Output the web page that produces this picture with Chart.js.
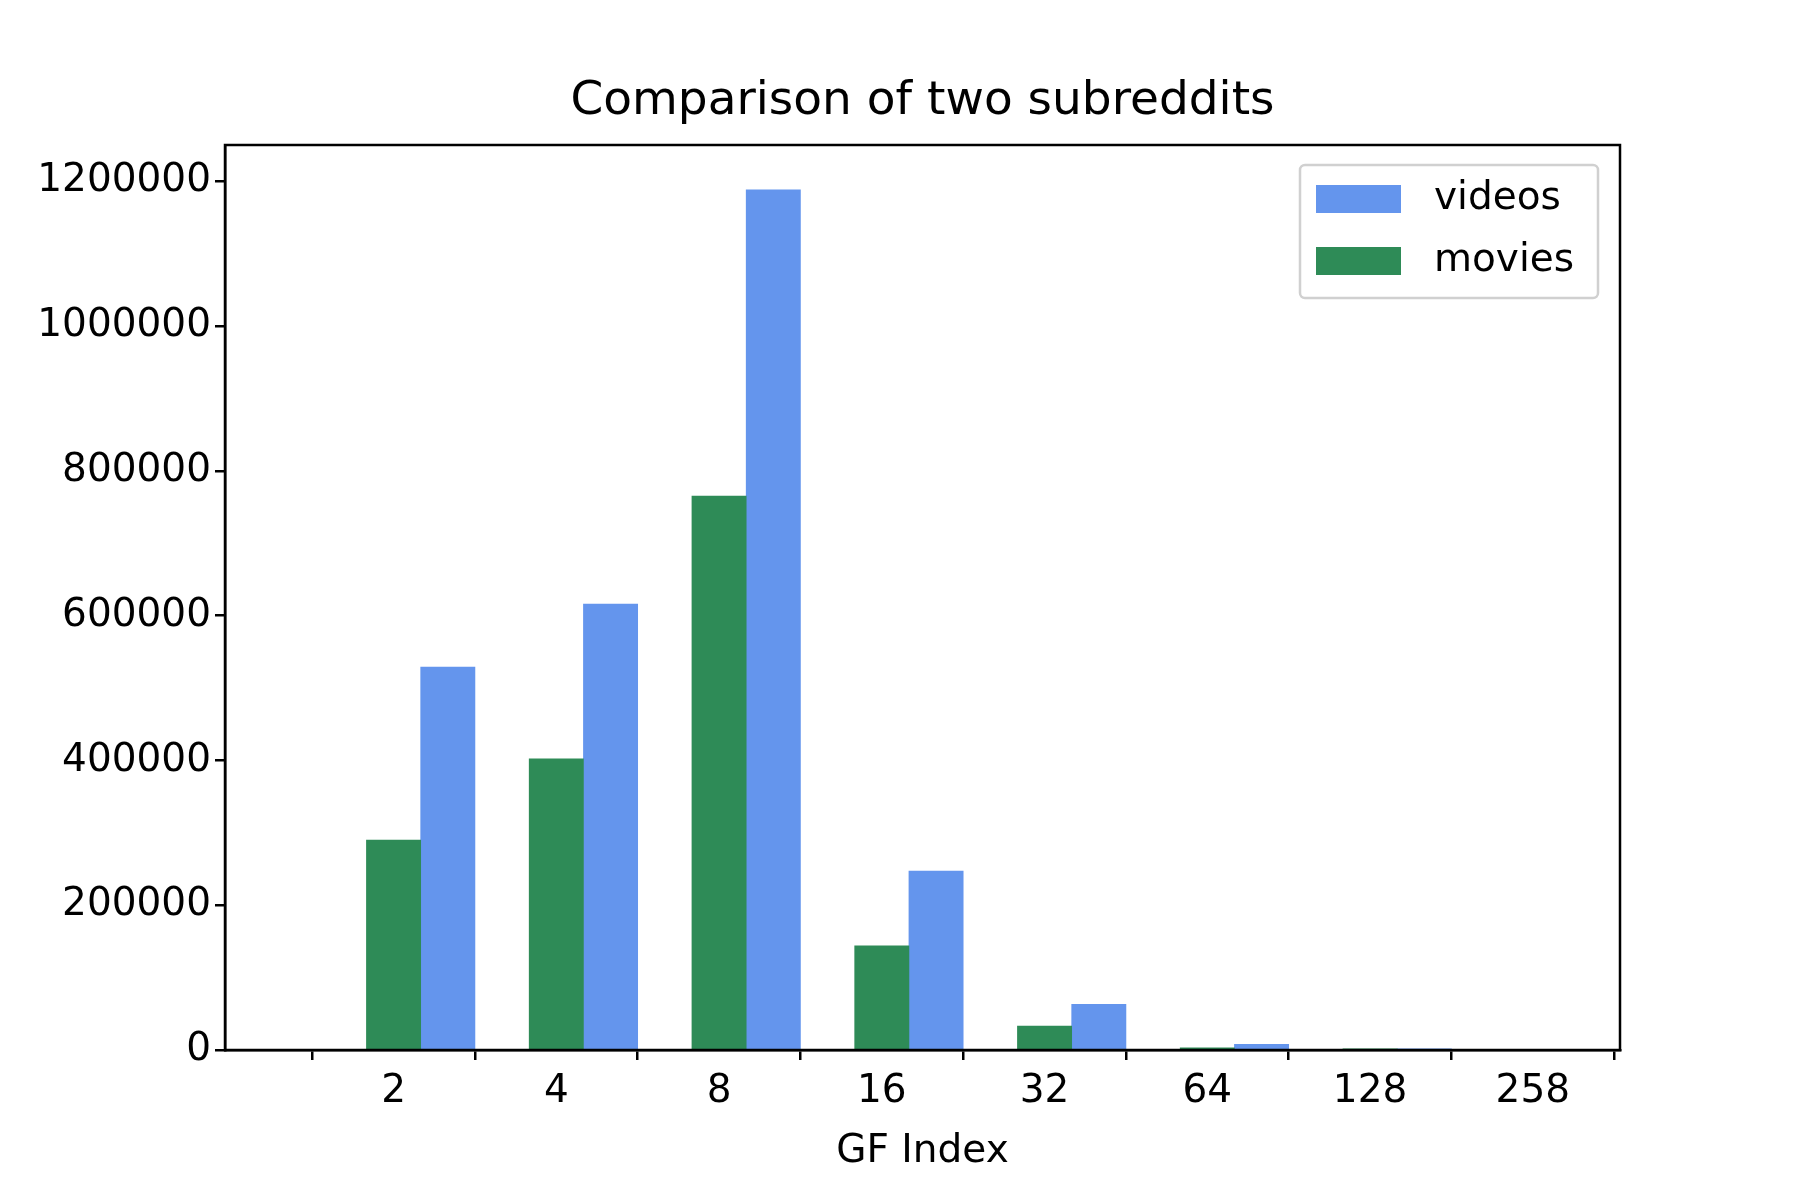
<!DOCTYPE html>
<html>
<head>
<meta charset="utf-8">
<script src="https://cdn.jsdelivr.net/npm/chart.js@4"></script>
<style>
  html, body { margin: 0; padding: 0; background: #fff; }
  #wrap { width: 1800px; height: 1200px; }
</style>
</head>
<body>
<div id="wrap"><canvas id="chart" width="1800" height="1200"></canvas></div>
<script>
const gfLabels = ['2', '4', '8', '16', '32', '64', '128', '258'];
const moviesCounts = [290000, 402000, 765000, 144000, 33000, 3000, 300];
const videosCounts = [529000, 616000, 1188000, 247000, 63000, 8000, 500];
const yTicks = [0, 200000, 400000, 600000, 800000, 1000000, 1200000];

const FONT = 'DejaVu Sans';

// bars sit on a numeric x axis: movies on the tick, videos a third to the right
const moviesPts = moviesCounts.map((v, i) => ({ x: i, y: v }));
const videosPts = videosCounts.map((v, i) => ({ x: i + 1 / 3, y: v }));

const frameAndText = {
    id: 'frameAndText',
    afterDraw(chart) {
        const { ctx, chartArea: a } = chart;
        ctx.save();
        ctx.strokeStyle = '#000';
        ctx.lineWidth = 2.5;
        ctx.strokeRect(a.left, a.top, a.right - a.left, a.bottom - a.top);

        ctx.fillStyle = '#000';
        ctx.textAlign = 'center';
        ctx.textBaseline = 'middle';
        ctx.font = '47px "' + FONT + '"';
        ctx.fillText('Comparison of two subreddits', (a.left + a.right) / 2, 102);
        ctx.font = '39px "' + FONT + '"';
        ctx.fillText('GF Index', (a.left + a.right) / 2, 1152);

        // legend box, top right inside the axes
        const bx = 1300, by = 165, bw = 298, bh = 133;
        ctx.strokeStyle = '#d0d0d0';
        ctx.lineWidth = 2.5;
        ctx.fillStyle = 'rgba(255,255,255,0.8)';
        ctx.beginPath();
        ctx.roundRect(bx, by, bw, bh, 5);
        ctx.fill();
        ctx.stroke();
        const order = [1, 0];
        order.forEach((di, k) => {
            const ds = chart.data.datasets[di];
            const cy = by + 34 + k * 62;
            ctx.fillStyle = ds.backgroundColor;
            ctx.fillRect(bx + 16, cy - 14, 85, 28);
            ctx.fillStyle = '#000';
            ctx.textAlign = 'left';
            ctx.fillText(ds.label, bx + 134, cy);
        });
        ctx.restore();
    }
};

new Chart(document.getElementById('chart').getContext('2d'), {
    type: 'bar',
    data: {
        datasets: [
            { label: 'movies', data: moviesPts, backgroundColor: '#2E8B57', grouped: false,
              barPercentage: 1, categoryPercentage: 1 },
            { label: 'videos', data: videosPts, backgroundColor: '#6495ED', grouped: false,
              barPercentage: 1, categoryPercentage: 1 }
        ]
    },
    options: {
        responsive: false,
        animation: false,
        devicePixelRatio: 1,
        layout: { padding: { left: 0, right: 180, top: 145, bottom: 0 } },
        plugins: { legend: { display: false }, title: { display: false }, tooltip: { enabled: false } },
        scales: {
            x: {
                type: 'linear',
                min: -0.5,
                max: 7,
                afterBuildTicks: s => { s.ticks = gfLabels.map((_, i) => ({ value: i })); },
                afterFit: s => { s.height = 150; },
                ticks: {
                    callback: v => gfLabels[v],
                    color: '#000',
                    font: { family: FONT, size: 39 },
                    padding: 8,
                    maxRotation: 0,
                    autoSkip: false
                },
                grid: { drawOnChartArea: false, color: '#000', tickLength: 10, lineWidth: 2.5 },
                border: { color: '#000', width: 2.5 }
            },
            y: {
                min: 0,
                max: 1250000,
                afterBuildTicks: s => { s.ticks = yTicks.map(v => ({ value: v })); },
                afterFit: s => { s.width = 225; },
                ticks: {
                    callback: v => String(v),
                    color: '#000',
                    font: { family: FONT, size: 39 },
                    padding: 4
                },
                grid: { drawOnChartArea: false, color: '#000', tickLength: 10, lineWidth: 2.5 },
                border: { color: '#000', width: 2.5 }
            }
        }
    },
    plugins: [frameAndText]
});
</script>
</body>
</html>
